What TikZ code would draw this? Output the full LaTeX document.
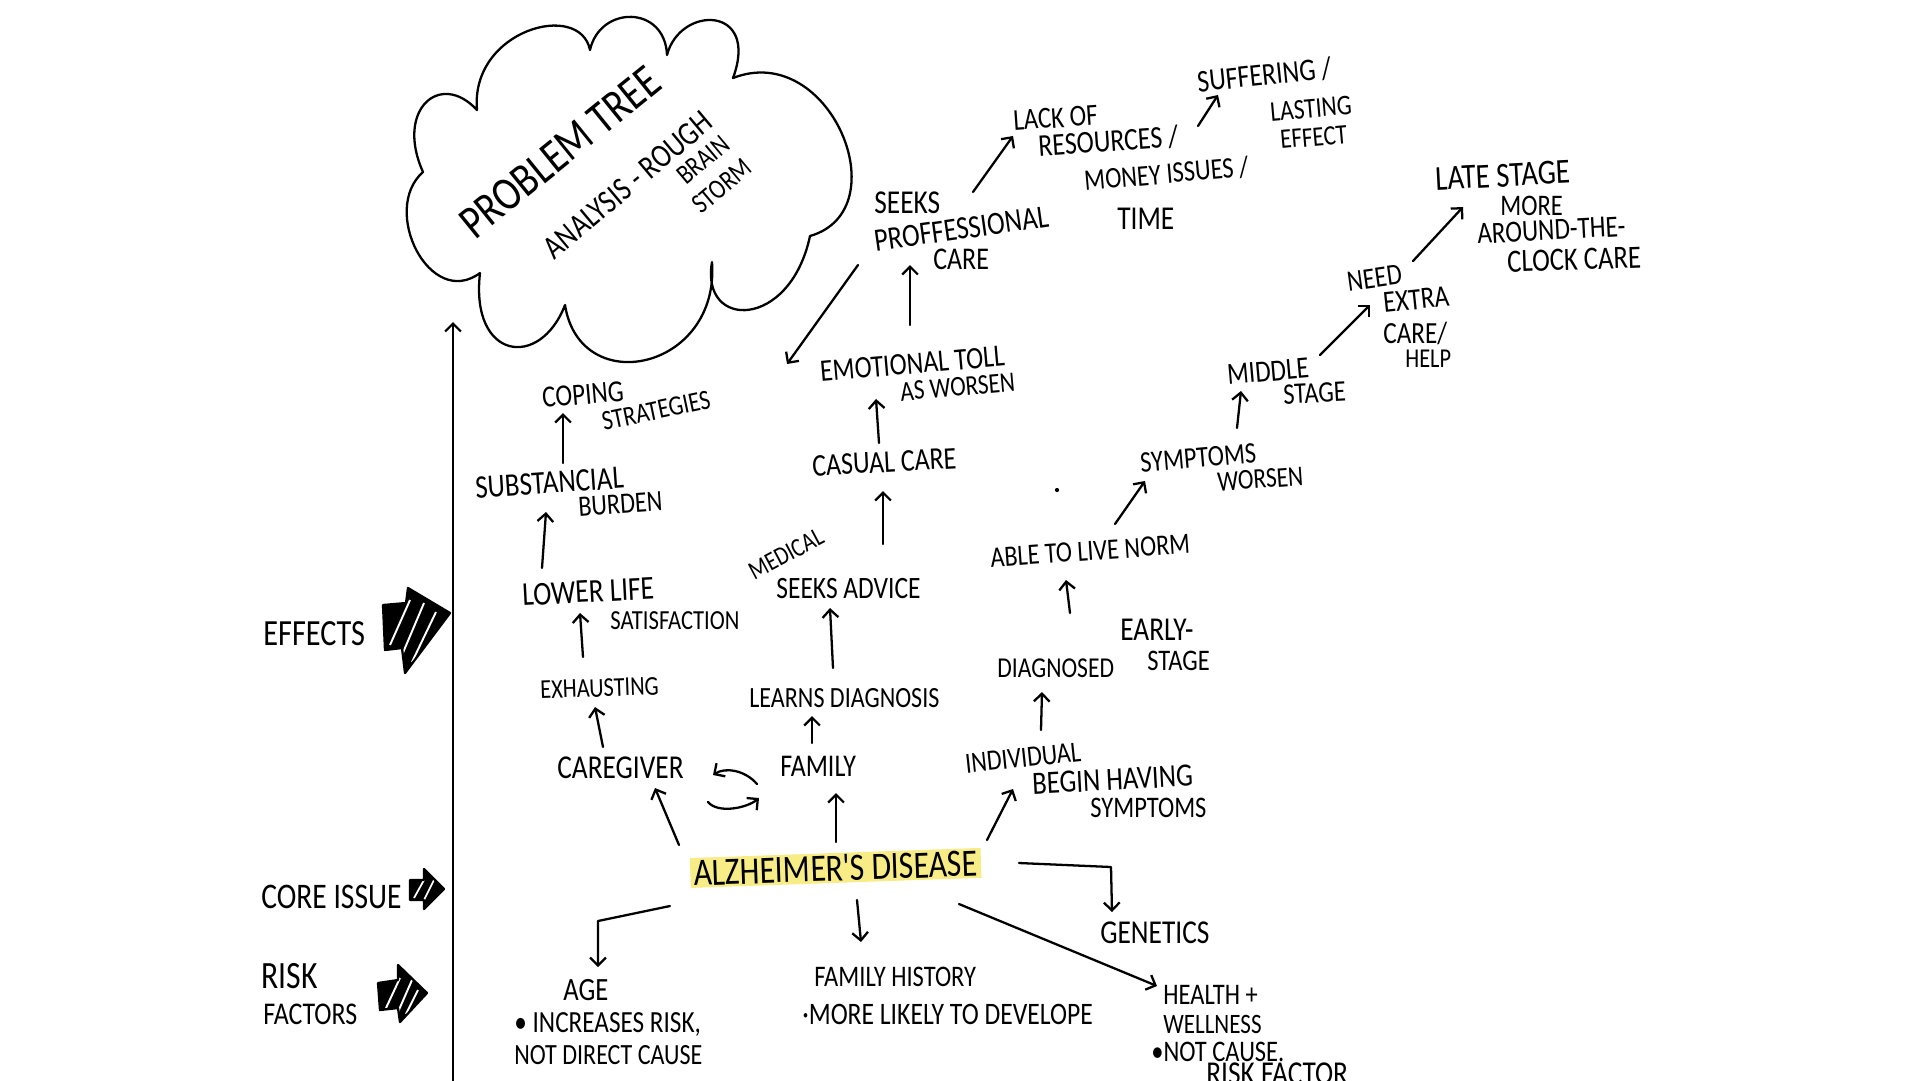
\documentclass[tikz,border=0pt]{standalone}
\usepackage{fontspec}
\newfontfamily\hand[FakeStretch=0.82]{Carlito}
\usetikzlibrary{arrows.meta,calc}
\definecolor{hl}{HTML}{F8EC86}
\newcommand\fz[1]{\hand\fontsize{#1}{#1}\selectfont}
\begin{document}
\begin{tikzpicture}[x=0.02cm,y=-0.02cm,
  lab/.style={inner sep=0pt,anchor=west},
  pen/.style={line width=1.3pt,line cap=round,line join=round},
  arr/.style={pen,-{Straight Barb[length=4.5pt,width=9pt]}}]
\useasboundingbox (0,0) rectangle (1920,1080);

% cloud
\draw[pen] (480,273) .. controls (430,310) and (380,210) .. (423,172)
  .. controls (395,110) and (440,70) .. (477,110)
  .. controls (470,30) and (580,0) .. (590,50)
  .. controls (600,5) and (665,5) .. (667,55)
  .. controls (680,5) and (760,5) .. (733,78)
  .. controls (830,40) and (900,210) .. (810,236)
  .. controls (790,330) and (700,330) .. (712,262)
  .. controls (720,370) and (580,400) .. (565,305)
  .. controls (540,370) and (470,360) .. (480,273);
\node[rotate=39,font=\fz{27}] (title) at (560,152) {PROBLEM TREE};
\node[rotate=40,font=\fz{19}] (analysis) at (628,185) {ANALYSIS - ROUGH};
\node[rotate=40,font=\fz{16}] (brain) at (703,160) {BRAIN};
\node[rotate=40,font=\fz{16}] (storm) at (722,186) {STORM};

% axis
\draw[arr] (453,1085) -- (453,322);

% left labels
\node[lab,font=\fz{21}] (effects) at (263,634) {EFFECTS};
\node[lab,font=\fz{20.5}] (core) at (261,897) {CORE ISSUE};
\node[lab,font=\fz{22}] (risk) at (261,976) {RISK};
\node[lab,font=\fz{18}] (factors) at (263,1014) {FACTORS};

% fat arrows
\fill (383,605) -- (406,603) -- (408,588) -- (450,613) -- (405,673) -- (402,648) -- (385,650) -- cycle;
\begin{scope}
\clip (383,605) -- (406,603) -- (408,588) -- (450,613) -- (405,673) -- (402,648) -- (385,650) -- cycle;
\draw[white,line width=1.1pt] (390,645) -- (410,600) (402,655) -- (424,603) (412,662) -- (436,612);
\end{scope}
\draw[pen] (383,605) -- (406,603) -- (408,588) -- (450,613) -- (405,673) -- (402,648) -- (385,650) -- cycle;

\fill (410,880) -- (424,880) -- (424,869) -- (444,889) -- (424,909) -- (424,900) -- (410,900) -- cycle;
\begin{scope}
\clip (410,880) -- (424,880) -- (424,869) -- (444,889) -- (424,909) -- (424,900) -- (410,900) -- cycle;
\draw[white,line width=1pt] (414,898) -- (424,880) (424,900) -- (434,880);
\end{scope}
\draw[pen] (410,880) -- (424,880) -- (424,869) -- (444,889) -- (424,909) -- (424,900) -- (410,900) -- cycle;

\fill (378,983) -- (398,980) -- (398,965) -- (427,993) -- (400,1022) -- (398,1008) -- (380,1010) -- cycle;
\begin{scope}
\clip (378,983) -- (398,980) -- (398,965) -- (427,993) -- (400,1022) -- (398,1008) -- (380,1010) -- cycle;
\draw[white,line width=1.1pt] (386,1008) -- (400,978) (398,1012) -- (412,980) (406,1014) -- (418,990);
\end{scope}
\draw[pen] (378,983) -- (398,980) -- (398,965) -- (427,993) -- (400,1022) -- (398,1008) -- (380,1010) -- cycle;

% caregiver column
\node[lab,rotate=5,font=\fz{17.5}] (coping) at (542,398) {COPING};
\node[lab,rotate=12,font=\fz{16}] (strat) at (602,422) {STRATEGIES};
\node[lab,rotate=4,font=\fz{18.7}] (subst) at (475,488) {SUBSTANCIAL};
\node[lab,rotate=4,font=\fz{16.8}] (burden) at (578,507) {BURDEN};
\node[lab,rotate=3,font=\fz{19}] (lower) at (522,595) {LOWER LIFE};
\node[lab,font=\fz{15.7}] (satis) at (610,621) {SATISFACTION};
\node[lab,rotate=2,font=\fz{15.5}] (exh) at (540,690) {EXHAUSTING};
\node[lab,font=\fz{19}] (cg) at (557,768) {CAREGIVER};

% family column
\node[lab,font=\fz{18}] (fam) at (780,766) {FAMILY};
\node[lab,font=\fz{16.7}] (learns) at (749,698) {LEARNS DIAGNOSIS};
\node[rotate=28,font=\fz{15}] (medical) at (786,554) {MEDICAL};
\node[lab,font=\fz{17.7}] (seekadv) at (776,588) {SEEKS ADVICE};
\node[lab,rotate=3,font=\fz{18}] (casual) at (812,466) {CASUAL CARE};
\node[lab,rotate=5,font=\fz{17.8}] (emo) at (820,372) {EMOTIONAL TOLL};
\node[lab,rotate=5,font=\fz{16.2}] (asworsen) at (900,392) {AS WORSEN};
\node[lab,font=\fz{19}] (seeks) at (874,203) {SEEKS};
\node[lab,rotate=8,font=\fz{18.5}] (prof) at (874,241) {PROFFESSIONAL};
\node[lab,font=\fz{18}] (profcare) at (933,259) {CARE};
\node[lab,rotate=4,font=\fz{17.3}] (lack) at (1013,121) {LACK OF};
\node[lab,rotate=4,font=\fz{18}] (res) at (1038,146) {RESOURCES /};
\node[lab,rotate=5,font=\fz{17}] (money) at (1084,181) {MONEY ISSUES /};
\node[lab,font=\fz{19}] (time) at (1117,219) {TIME};
\node[lab,rotate=6,font=\fz{18}] (suff) at (1197,82) {SUFFERING /};
\node[lab,rotate=5,font=\fz{16.3}] (last) at (1270,112) {LASTING};
\node[lab,rotate=5,font=\fz{16}] (effect) at (1280,140) {EFFECT};
\coordinate (sp) at (787,364);

% individual column
\node[lab,rotate=3,font=\fz{20}] (late) at (1435,179) {LATE STAGE};
\node[lab,font=\fz{17}] (more) at (1500,206) {MORE};
\node[lab,rotate=3,font=\fz{17.5}] (around) at (1477,234) {AROUND-THE-};
\node[lab,rotate=2,font=\fz{18.5}] (clock) at (1507,262) {CLOCK CARE};
\node[lab,rotate=8,font=\fz{17}] (need) at (1347,282) {NEED};
\node[lab,rotate=6,font=\fz{17.5}] (extra) at (1383,303) {EXTRA};
\node[lab,font=\fz{17.5}] (care2) at (1383,333) {CARE/};
\node[lab,font=\fz{15.5}] (help) at (1405,359) {HELP};
\node[lab,rotate=5,font=\fz{17.5}] (middle) at (1227,375) {MIDDLE};
\node[lab,rotate=3,font=\fz{17}] (mstage) at (1283,395) {STAGE};
\node[lab,rotate=5,font=\fz{17}] (symw) at (1140,463) {SYMPTOMS};
\node[lab,rotate=4,font=\fz{16.3}] (worsen) at (1217,482) {WORSEN};
\fill (1057,490) circle[radius=1.2pt];
\node[lab,rotate=4,font=\fz{16.8}] (able) at (990,558) {ABLE TO LIVE NORM};
\node[lab,font=\fz{19}] (early) at (1120,630) {EARLY-};
\node[lab,font=\fz{16.4}] (diag) at (997,668) {DIAGNOSED};
\node[lab,font=\fz{17}] (estage) at (1147,661) {STAGE};
\node[lab,rotate=6,font=\fz{16.7}] (indiv) at (965,764) {INDIVIDUAL};
\node[lab,rotate=3,font=\fz{18.5}] (begin) at (1032,784) {BEGIN HAVING};
\node[lab,font=\fz{17}] (symb) at (1090,808) {SYMPTOMS};

% core issue
\node[lab,rotate=2,font=\fz{22},fill=hl,inner xsep=2pt,inner ysep=1pt] (alz) at (690,873) {ALZHEIMER'S DISEASE};

% risk factors
\node[lab,font=\fz{18.5}] (age) at (563,990) {AGE};
\node[lab,font=\fz{17.5}] (inc) at (514,1024) {• INCREASES RISK,};
\node[lab,font=\fz{16.7}] (notd) at (514,1055) {NOT DIRECT CAUSE};
\node[lab,font=\fz{17}] (famh) at (814,977) {FAMILY HISTORY};
\node[lab,font=\fz{17.8}] (moreli) at (802,1014) {·MORE LIKELY TO DEVELOPE};
\node[lab,font=\fz{19}] (gen) at (1100,933) {GENETICS};
\node[lab,font=\fz{17}] (health) at (1163,995) {HEALTH +};
\node[lab,font=\fz{16}] (well) at (1163,1024) {WELLNESS};
\node[lab,font=\fz{17}] (notc) at (1151,1052) {•NOT CAUSE.};
\node[lab,font=\fz{19}] (riskf) at (1206,1074) {RISK FACTOR};

% connectors
\draw[arr] ([shift={(88,-25)}]subst.west) -- ([shift={(21,15)}]coping.west);
\draw[arr] ([shift={(20,-27)}]lower.west) -- ([shift={(71,24)}]subst.west);
\draw[arr] ([shift={(43,-33)}]exh.west) -- ([shift={(58,18)}]lower.west);
\draw[arr] ([shift={(46,-21)}]cg.west) -- ([shift={(55,17)}]exh.west);
\draw[arr] ([shift={(-11,-28)}]alz.west) -- ([shift={(98,20)}]cg.west);
\draw[arr] ([shift={(146,-31)}]alz.west) -- ([shift={(56,27)}]fam.west);
\draw[arr] ([shift={(32,-23)}]fam.west) -- ([shift={(63,18)}]learns.west);
\draw[arr] ([shift={(84,-30)}]learns.west) -- ([shift={(54,20)}]seekadv.west);
\draw[arr] ([shift={(107,-44)}]seekadv.west) -- ([shift={(71,25)}]casual.west);
\draw[arr] ([shift={(67,-23)}]casual.west) -- ([shift={(56,27)}]emo.west);
\draw[arr] ([shift={(90,-47)}]emo.west) -- ([shift={(36,24)}]prof.west);
\draw[arr] ([shift={(-16,24)}]prof.west) -- (sp);
\draw[arr] ([shift={(99,-11)}]seeks.west) -- ([shift={(0,15)}]lack.west);
\draw[arr] ([shift={(160,-20)}]res.west) -- ([shift={(21,13)}]suff.west);
\draw[arr] ([shift={(93,-20)}]middle.west) -- ([shift={(23,23)}]need.west);
\draw[arr] ([shift={(66,-21)}]need.west) -- ([shift={(28,28)}]late.west);
\draw[arr] ([shift={(97,-35)}]symw.west) -- ([shift={(14,16)}]middle.west);
\draw[arr] ([shift={(125,-34)}]able.west) -- ([shift={(5,18)}]symw.west);
\draw[arr] ([shift={(73,-55)}]diag.west) -- ([shift={(76,22)}]able.west);
\draw[arr] ([shift={(76,-34)}]indiv.west) -- ([shift={(45,24)}]diag.west);
\draw[arr] ([shift={(297,-33)}]alz.west) -- ([shift={(48,25)}]indiv.west);
\draw[arr] ([shift={(-20,33)}]alz.west) -- ([shift={(35,-69)}]age.west) -- ([shift={(35,-23)}]age.west);
\draw[arr] ([shift={(167,27)}]alz.west) -- ([shift={(47,-35)}]famh.west);
\draw[arr] ([shift={(329,-10)}]alz.west) -- ([shift={(11,-66)}]gen.west) -- ([shift={(12,-21)}]gen.west);
\draw[arr] ([shift={(269,31)}]alz.west) -- ([shift={(-6,-9)}]health.west);
\draw[arr] ([shift={(-23,18)}]fam.west) .. controls +(-12,-14) and +(12,-8) .. ([shift={(156,7)}]cg.west);
\draw[arr] ([shift={(151,34)}]cg.west) .. controls +(10,12) and +(-12,10) .. ([shift={(-21,32)}]fam.west);
\end{tikzpicture}
\end{document}
